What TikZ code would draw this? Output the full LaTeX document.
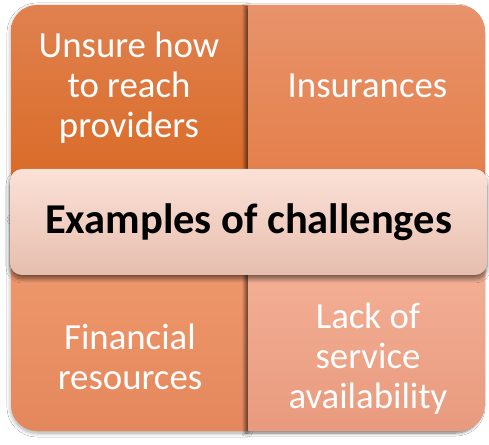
\documentclass[tikz,border=0pt]{standalone}
\usepackage{fontspec}
\setmainfont{Carlito}
\usetikzlibrary{shadows.blur}

\definecolor{tlTop}{HTML}{E0814F}
\definecolor{tlBot}{HTML}{D9661F}
\definecolor{trTop}{HTML}{E8936B}
\definecolor{trBot}{HTML}{E47A43}
\definecolor{blTop}{HTML}{F29C71}
\definecolor{blBot}{HTML}{E4875C}
\definecolor{brTop}{HTML}{F7B69C}
\definecolor{brBot}{HTML}{E89A7E}
\definecolor{ctTop}{HTML}{FCE1D7}
\definecolor{ctBot}{HTML}{E6BEAE}

\tikzset{
  x=1pt, y=1pt,
  quad/.style={blur shadow={shadow xshift=0pt, shadow yshift=-2pt,
      shadow blur radius=4pt, shadow opacity=35, shadow blur steps=10}},
  quadR/.style={blur shadow={shadow xshift=-3pt, shadow yshift=-2pt,
      shadow blur radius=3pt, shadow opacity=55, shadow blur steps=10}},
  qtext/.style={text=white, align=center, font=\fontsize{36.8}{40}\selectfont, inner sep=0pt},
  ctext/.style={text=black, font=\fontsize{42.5}{48}\selectfont\bfseries, inner sep=0pt},
}

\begin{document}
\begin{tikzpicture}
  \useasboundingbox[fill=white] (0,0) rectangle (489,444);

  % left column
  \path[quad, top color=tlTop, bottom color=tlBot]
    (11,226) -- (11,413) arc[start angle=180, end angle=90, radius=26]
    -- (248,439) -- (248,226) -- cycle;
  \path[quad, top color=blTop, bottom color=blBot]
    (11,227) -- (248,227) -- (248,13) -- (37,13)
    arc[start angle=270, end angle=180, radius=26] -- cycle;

  % right column
  \path[quadR, top color=trTop, bottom color=trBot]
    (248,226) -- (248,439) -- (459,439)
    arc[start angle=90, end angle=0, radius=26] -- (485,226) -- cycle;
  \path[quadR, top color=brTop, bottom color=brBot]
    (248,227) -- (485,227) -- (485,39)
    arc[start angle=0, end angle=-90, radius=26] -- (248,13) -- cycle;

  % centre banner
  \path[rounded corners=12pt, top color=ctTop, bottom color=ctBot,
        blur shadow={shadow xshift=0pt, shadow yshift=-4pt,
        shadow blur radius=4pt, shadow opacity=50, shadow blur steps=10}]
    (10,169) rectangle (487,275);

  \node[qtext] (tl) at (129,356) {Unsure how\\to reach\\providers};
  \node[qtext, anchor=base] (tr) at (367.5,346) {Insurances};
  \node[qtext] (bl) at (130,87.5) {Financial\\resources};
  \node[qtext] (br) at (368,85.5) {Lack of\\service\\availability};
  \node[ctext, anchor=base] (ct) at (248.5,210) {Examples of challenges};
\end{tikzpicture}
\end{document}
